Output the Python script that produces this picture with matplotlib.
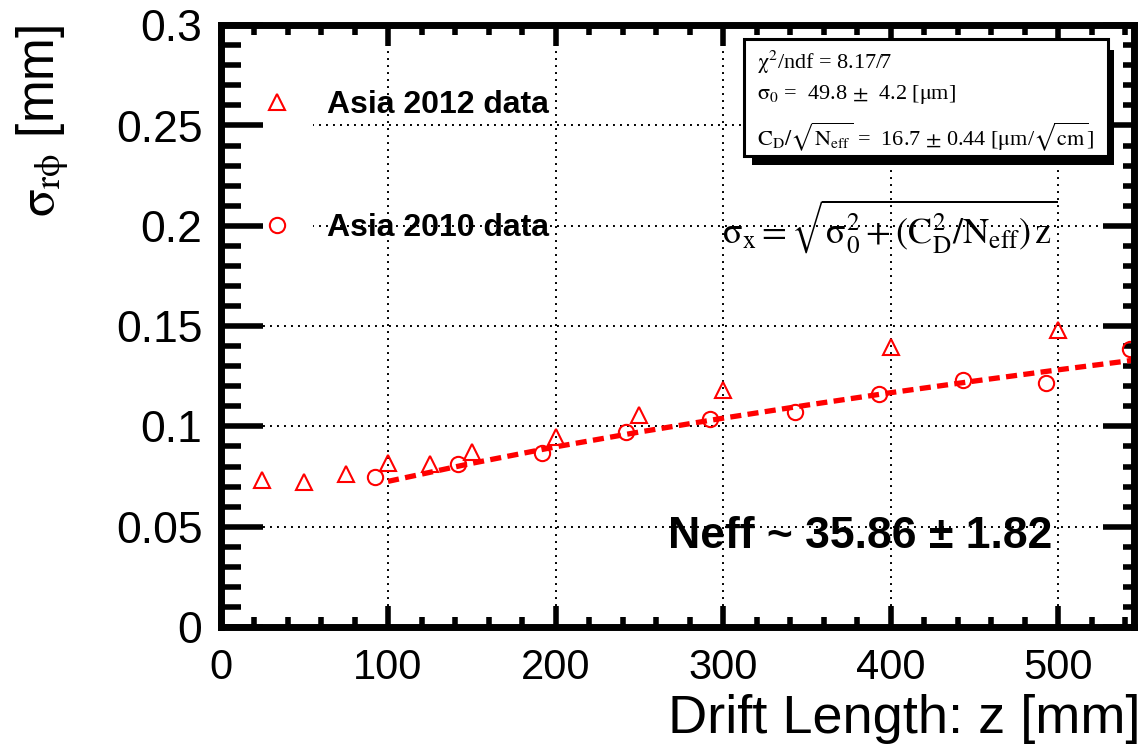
import matplotlib
matplotlib.use('Agg')
import matplotlib.pyplot as plt
from matplotlib.patches import Rectangle
from matplotlib.ticker import MultipleLocator
from matplotlib.lines import Line2D

# ---------------- data ----------------
z_2012 = [25, 50, 75, 100, 125, 150, 200, 250, 300, 400, 500]
sigma_2012 = [0.0733, 0.0724, 0.0763, 0.0816, 0.0813, 0.0874, 0.0946, 0.1057, 0.1181, 0.1394, 0.1480]
z_2010 = [92, 142, 192, 242, 292, 343, 393, 443, 493, 543]
sigma_2010 = [0.0749, 0.0813, 0.0866, 0.0974, 0.1037, 0.1073, 0.1162, 0.1231, 0.1215, 0.1384]
fit_z = [100, 150, 200, 250, 300, 350, 400, 450, 500, 545]
fit_sigma = [0.0726, 0.0816, 0.0898, 0.0972, 0.1041, 0.1106, 0.1168, 0.1226, 0.1282, 0.1330]

x_ticks = [0, 100, 200, 300, 400, 500]
y_ticks = [0, 0.05, 0.1, 0.15, 0.2, 0.25, 0.3]
y_tick_labels = ['0', '0.05', '0.1', '0.15', '0.2', '0.25', '0.3']
series_labels = ['Asia 2012 data', 'Asia 2010 data']
stats_lines = [r'$\mathrm{\chi}^{2}$/ndf = 8.17/7',
               r'$\mathrm{\sigma}_{0}$ =  49.8 $\pm$  4.2 [$\mathrm{\mu}$m]',
               r'$\mathrm{C}_{\mathrm{D}}/\sqrt{\mathrm{N}_{\mathrm{eff}}}$ =  16.7 $\pm$ 0.44 [$\mathrm{\mu}$m/$\sqrt{\mathrm{cm}}$]']
formula = r'$\mathrm{\sigma}_{\mathrm{x}} = \sqrt{\mathrm{\sigma}_{0}^{2}+(\mathrm{C}_{\mathrm{D}}^{2}/\mathrm{N}_{\mathrm{eff}})\,\mathrm{z}}$'
neff_text = 'Neff ~ 35.86 ± 1.82'
x_label = 'Drift Length: z [mm]'
y_label = r'$\mathrm{\sigma}_{\mathrm{r}\mathrm{\phi}}$ [mm]'

# ---------------- layout ----------------
W, H = 1148, 744
def fx(px):
    return px / W
def fy(py):
    return 1 - py / H

fig = plt.figure(figsize=(W / 100, H / 100), dpi=100)
ax = fig.add_axes([fx(220.5), fy(627), fx(1133.5) - fx(220.5), fy(25.2) - fy(627)])
ax.set_xlim(0, 545)
ax.set_ylim(0, 0.3)

for s in ax.spines.values():
    s.set_linewidth(5)
    s.set_zorder(4)

ax.set_xticks(x_ticks)
ax.set_xticklabels([str(v) for v in x_ticks], family='Liberation Sans')
ax.set_yticks(y_ticks)
ax.set_yticklabels(y_tick_labels, family='Liberation Sans')
ax.xaxis.set_minor_locator(MultipleLocator(20))
ax.yaxis.set_minor_locator(MultipleLocator(0.01))
ax.tick_params(axis='x', which='major', direction='in', length=15, width=4,
               top=True, labelsize=30, pad=15)
ax.tick_params(axis='x', which='minor', direction='in', length=7, width=4, top=True)
ax.tick_params(axis='y', which='major', direction='in', length=30, width=4,
               right=False, labelsize=32, pad=13)
ax.tick_params(axis='y', which='minor', direction='in', length=14.5, width=4, right=False)

sec = ax.secondary_yaxis('right')
sec.set_yticks(y_ticks)
sec.yaxis.set_minor_locator(MultipleLocator(0.01))
sec.tick_params(axis='y', which='major', direction='in', length=22, width=4, labelright=False)
sec.tick_params(axis='y', which='minor', direction='in', length=8, width=4)
for s in sec.spines.values():
    s.set_visible(False)

# dotted grid
grid_style = dict(color='black', lw=1.4, ls=(0, (1, 2.6)), zorder=0.8)
for v in x_ticks[1:]:
    ax.axvline(v, **grid_style)
for v in y_ticks[1:-1]:
    ax.axhline(v, **grid_style)

# legend box background (covers gridlines at left)
ax.add_patch(Rectangle((0, 0.17), 55, 0.12, facecolor='white', edgecolor='none', zorder=0.9))

# fit curve
ax.plot(fit_z, fit_sigma, color='red', lw=3.8, ls=(0, (2.1, 1.2)),
        dash_capstyle='butt', zorder=2)

# data
ax.plot(z_2012, sigma_2012, ls='none', marker='^', ms=11, mfc='none', mec='red', mew=1.5, zorder=3)
ax.plot(z_2010, sigma_2010, ls='none', marker='o', ms=11, mfc='none', mec='red', mew=1.5, zorder=3)

handles = [Line2D([], [], ls='none', marker='^', ms=11, mfc='none', mec='red', mew=1.5),
           Line2D([], [], ls='none', marker='o', ms=11, mfc='none', mec='red', mew=1.5)]
leg = ax.legend(handles, series_labels, loc='upper left',
                bbox_to_anchor=((261 - 220.5) / 913, (627 - 90) / 601.8),
                frameon=False, borderpad=0, borderaxespad=0,
                handlelength=1.0, handletextpad=1.06, labelspacing=2.92,
                prop=dict(family='Liberation Sans', weight='bold', size=23))

# stats box with shadow
fig.add_artist(Rectangle((fx(752), fy(165)), fx(1114) - fx(752), fy(50) - fy(165),
                         transform=fig.transFigure, facecolor='black', edgecolor='none', zorder=5))
fig.add_artist(Rectangle((fx(744), fy(156)), fx(1108) - fx(744), fy(39) - fy(156),
                         transform=fig.transFigure, facecolor='white', edgecolor='black',
                         lw=2.2, zorder=6))
for txt, py in zip(stats_lines, [62, 95, 137]):
    fig.text(fx(757), fy(py), txt, va='center', ha='left', fontsize=16,
             family='Liberation Serif', math_fontfamily='stix', zorder=7)

fig.text(fx(722), fy(226), formula, va='center', ha='left', fontsize=26,
         family='Liberation Serif', math_fontfamily='stix', zorder=7)

fig.text(fx(668), fy(548), neff_text, va='baseline', ha='left', fontsize=32,
         weight='bold', family='Liberation Sans', zorder=7)

fig.text(fx(1140), fy(733), x_label, va='baseline', ha='right', fontsize=39,
         family='Liberation Sans')
fig.text(fx(43), fy(25), y_label, rotation=90, va='top', ha='center', fontsize=37,
         family='Liberation Sans', math_fontfamily='stix')

fig.savefig('out.png', dpi=100)
